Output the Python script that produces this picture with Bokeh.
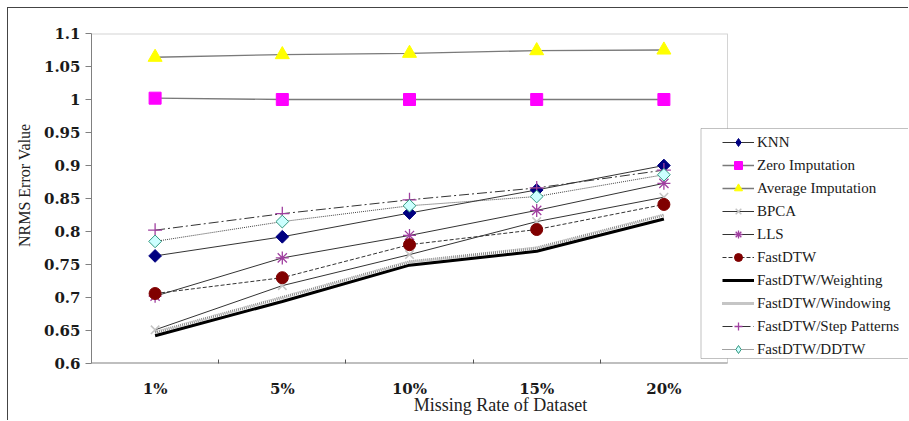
import numpy as np
from bokeh.plotting import figure
from bokeh.models import (FixedTicker, Legend, LegendItem, Title, BoxAnnotation,
                          Range1d, NumeralTickFormatter)
from bokeh.embed import file_html
from bokeh.resources import INLINE

# ---------------- data ----------------
rates = ["1%", "5%", "10%", "15%", "20%"]
y_ticks = [0.6, 0.65, 0.7, 0.75, 0.8, 0.85, 0.9, 0.95, 1.0, 1.05, 1.1]

knn = [0.763, 0.792, 0.828, 0.863, 0.900]
zero_imputation = [1.002, 1.000, 1.000, 1.000, 1.000]
average_imputation = [1.064, 1.068, 1.070, 1.074, 1.075]
bpca = [0.651, 0.718, 0.765, 0.815, 0.852]
lls = [0.702, 0.760, 0.794, 0.832, 0.873]
fastdtw = [0.706, 0.730, 0.780, 0.803, 0.841]
fastdtw_weighting = [0.642, 0.694, 0.749, 0.770, 0.819]
fastdtw_windowing = [0.647, 0.700, 0.754, 0.775, 0.825]
fastdtw_step = [0.802, 0.827, 0.848, 0.866, 0.893]
fastdtw_ddtw = [0.785, 0.815, 0.839, 0.853, 0.886]

labels = ["KNN", "Zero Imputation", "Average Imputation", "BPCA", "LLS", "FastDTW",
          "FastDTW/Weighting", "FastDTW/Windowing", "FastDTW/Step Patterns", "FastDTW/DDTW"]

xs = list(range(len(rates)))

SERIF = "Liberation Serif"
TICKFONT = "DejaVu Serif"

# layout (pixels)
W, H = 901, 413
BL, BT, BB = 83, 25, 58
CAT_PX = 127.2                      # width of one category slot
FRAME_W = W - BL
x_lo = -0.5
x_hi = len(rates) - 0.5
y_lo, y_hi = y_ticks[0], y_ticks[-1]

p = figure(width=W, height=H, output_backend="svg", toolbar_location=None,
           x_range=Range1d(x_lo, x_lo + FRAME_W / CAT_PX), y_range=Range1d(y_lo, y_hi),
           min_border_left=BL, min_border_right=0, min_border_top=BT, min_border_bottom=BB)
p.styles = {"margin-left": "7px", "margin-top": "7px",
            "border-top": "1px solid #444444", "border-left": "1px solid #444444"}
p.background_fill_color = "white"
p.border_fill_color = "white"
p.outline_line_color = None
p.xgrid.visible = False
p.ygrid.visible = False

# axes
xa = p.xaxis[0]
xa.ticker = FixedTicker(ticks=xs, minor_ticks=[i + 0.5 for i in xs[:-1]])
xa.major_label_overrides = {i: r for i, r in zip(xs, rates)}
xa.major_tick_in = 0
xa.major_tick_out = 0
xa.minor_tick_in = 4
xa.minor_tick_out = 0
xa.minor_tick_line_color = "#555555"
xa.axis_line_color = None
xa.major_label_text_font = TICKFONT
xa.major_label_text_font_style = "bold"
xa.major_label_text_font_size = "15px"
xa.major_label_text_color = "#1a1a1a"
xa.major_label_standoff = 16
xa.axis_label = "Missing Rate of Dataset"
xa.axis_label_text_font = SERIF
xa.axis_label_text_font_style = "normal"
xa.axis_label_text_font_size = "18px"
xa.axis_label_text_color = "#222222"
xa.axis_label_standoff = -6

ya = p.yaxis[0]
ya.ticker = FixedTicker(ticks=y_ticks, minor_ticks=[])
ya.formatter = NumeralTickFormatter(format="0.[00]")
ya.major_tick_in = 0
ya.major_tick_out = 6
ya.major_tick_line_color = "#808080"
ya.minor_tick_line_color = None
ya.axis_line_color = "#808080"
ya.major_label_text_font = TICKFONT
ya.major_label_text_font_style = "bold"
ya.major_label_text_font_size = "15px"
ya.major_label_text_color = "#1a1a1a"
ya.major_label_standoff = 5

# y title (sits a little above the frame centre, as in the original)
p.add_layout(Title(text="NRMS Error Value", align="right", offset=90,
                   vertical_align="middle", standoff=13,
                   text_font=SERIF, text_font_size="16px", text_font_style="normal",
                   text_color="#222222"), "left")

# plot-area border (frame only spans the five category slots)
p.line([x_lo, x_hi], [y_hi, y_hi], line_color="#d4d4d4", line_width=2)
p.line([x_hi, x_hi], [y_lo, y_hi], line_color="#d4d4d4", line_width=1)
p.line([x_lo, x_hi], [y_lo, y_lo], line_color="#808080", line_width=2)

# series styles: (values, line style, plot marker, legend marker)
series = [
    (knn, dict(line_color="#333333", line_width=1),
     dict(marker="square", angle=np.pi / 4, size=9, fill_color="#000080", line_color="#000080"),
     dict(marker="diamond", fill_color="#000080", line_color="#000080")),
    (zero_imputation, dict(line_color="#7a7a7a", line_width=1.3),
     dict(marker="square", size=12, fill_color="#FF00FF", line_color="#FF00FF"), None),
    (average_imputation, dict(line_color="#7a7a7a", line_width=1.3),
     dict(marker="triangle", size=14, fill_color="#FFFF00", line_color="#FFFF00"), None),
    (bpca, dict(line_color="#333333", line_width=1),
     dict(marker="x", size=12, line_color="#c4c4c4", line_width=1.5), None),
    (lls, dict(line_color="#333333", line_width=1),
     dict(marker="asterisk", size=13, line_color="#A040A0", line_width=1.3), None),
    (fastdtw, dict(line_color="#333333", line_width=1, line_dash="4 2"),
     dict(marker="circle", size=12, fill_color="#800000", line_color="#800000"), None),
    (fastdtw_weighting, dict(line_color="#000000", line_width=3), None, None),
    (fastdtw_windowing, dict(line_color="#8a8a8a", line_width=3, line_dash="1 1"), None, None),
    (fastdtw_step, dict(line_color="#333333", line_width=1, line_dash="10 3 2 3"),
     dict(marker="cross", size=14, line_color="#A040A0", line_width=1.3), None),
    (fastdtw_ddtw, dict(line_color="#444444", line_width=1, line_dash="1 1"),
     dict(marker="square", angle=np.pi / 4, size=9, fill_color="#CCFFFF", line_color="#339980"),
     dict(marker="diamond", fill_color="#CCFFFF", line_color="#339980")),
]

items = []
for lab, (ys, lstyle, mstyle, legstyle) in zip(labels, series):
    line_r = p.line(xs, ys, **lstyle)
    rs = [line_r]
    if mstyle is not None:
        mark_r = p.scatter(xs, ys, **mstyle)
        if legstyle is None:
            rs.append(mark_r)
        else:
            # legend-only proxy (legend does not rotate markers)
            rs.append(p.scatter([np.nan], [np.nan], size=12, **legstyle))
    items.append(LegendItem(label=lab, renderers=rs))

# legend box (white, dark border, runs off the right edge)
p.add_layout(BoxAnnotation(left=609.5, right=2000, top=235, bottom=5,
                           left_units="screen", right_units="screen",
                           top_units="screen", bottom_units="screen",
                           fill_color="white", fill_alpha=1.0,
                           line_color="#333333", line_width=1))

legend = Legend(items=items, location=(629, 2), orientation="vertical",
                glyph_width=32, glyph_height=20, label_height=20, spacing=3,
                padding=2, margin=0, label_standoff=3,
                label_text_font=SERIF, label_text_font_size="15px",
                label_text_color="#1a1a1a",
                border_line_alpha=0, background_fill_alpha=0)
p.add_layout(legend, "center")

open("out.html", "w").write(file_html(p, INLINE))
